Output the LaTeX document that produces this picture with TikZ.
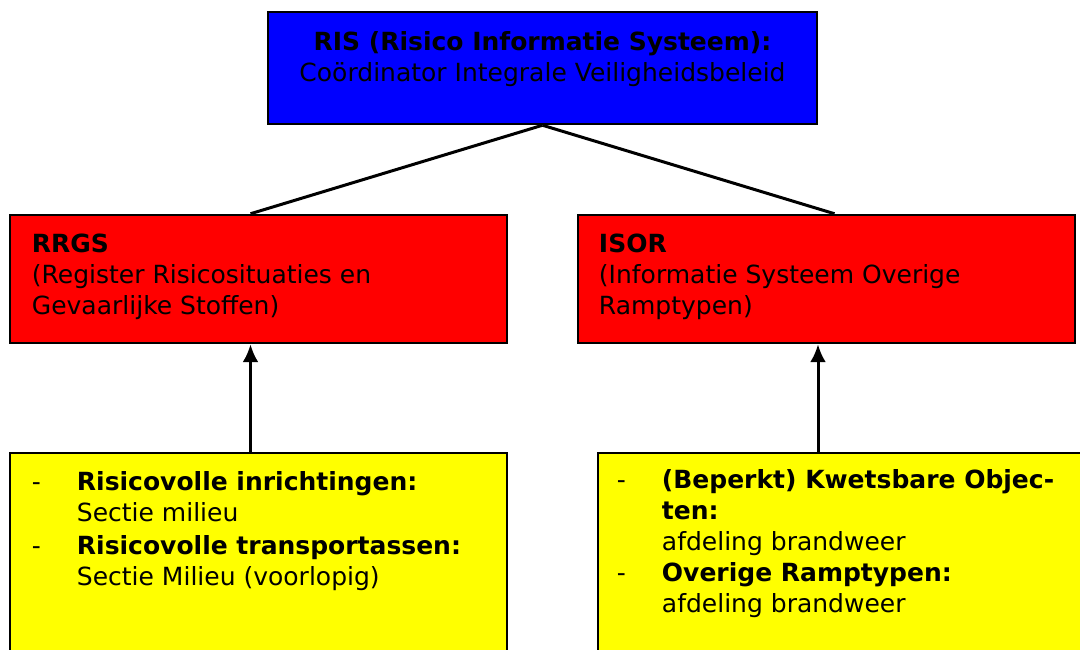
\documentclass[tikz,border=0pt]{standalone}
\usepackage{fontspec}
\setmainfont{DejaVu Sans}
\usetikzlibrary{arrows.meta, positioning}
\definecolor{RISBlue}{RGB}{0,0,255}
\definecolor{RISRed}{RGB}{255,0,0}
\definecolor{RISYellow}{RGB}{255,255,0}

\begin{document}
\begin{tikzpicture}[x = 1pt, y = 1pt]%
    %
    \def\boxwidth{497pt}%
    \def\boxheight{128pt}%
    \def\dashcol{45pt}%
    %
    \tikzstyle{box} = [rectangle, draw = black, line width = 2.5pt, minimum width = \boxwidth, minimum height = \boxheight, inner sep = 0pt]%
    \tikzstyle{txt} = [align = left, inner sep = 0pt, font = \fontsize{25}{31}\selectfont]%
    \tikzstyle{link} = [draw = black, line width = 3pt]%
    \tikzstyle{arrow} = [-{Latex[length = 18pt, width = 16pt]}, line width = 3pt, draw = black]%
    %
    \useasboundingbox (0, 0) rectangle (1080, 650);%
    \clip (0, 0) rectangle (1080, 650);%
    %
    % boxes
    \node [box, fill = RISBlue, minimum width = 549pt, minimum height = 112pt] (ris) at (542.5, 582) {};%
    \node [box, fill = RISRed] (rrgs) at (258.5, 371) {};%
    \node [box, fill = RISRed] (isor) at (826.5, 371) {};%
    \node [box, fill = RISYellow, minimum height = 247pt] (risks) at (258.5, 73.5) {};%
    \node [box, fill = RISYellow, minimum width = 502pt, minimum height = 247pt] (objects) at (849, 73.5) {};%
    %
    % texts
    \node [txt, align = center, below = 21pt of ris.north] (ristxt) {\textbf{RIS (Risico Informatie Systeem):}\\Coördinator Integrale Veiligheidsbeleid};%
    \node [txt, below right = 20pt and 23pt of rrgs.north west] (rrgstxt) {\textbf{RRGS}\\(Register Risicosituaties en\\Gevaarlijke Stoffen)};%
    \node [txt, below right = 20pt and 22pt of isor.north west] (isortxt) {\textbf{ISOR}\\(Informatie Systeem Overige\\Ramptypen)};%
    \node [txt, below right = 17pt and 23pt of risks.north west] (riskstxt) {%
        \begin{tabular}{@{}p{\dashcol}@{}l@{}}%
            - & \textbf{Risicovolle inrichtingen:}\\
              & Sectie milieu\\[2pt]
            - & \textbf{Risicovolle transportassen:}\\
              & Sectie Milieu (voorlopig)
        \end{tabular}};%
    \node [txt, below right = 15pt and 20pt of objects.north west] (objectstxt) {%
        \begin{tabular}{@{}p{\dashcol}@{}l@{}}%
            - & \textbf{(Beperkt) Kwetsbare Objec-}\\
              & \textbf{ten:}\\
              & afdeling brandweer\\
            - & \textbf{Overige Ramptypen:}\\
              & afdeling brandweer
        \end{tabular}};%
    %
    % connectors
    \draw [link] (ris.south) -- ([xshift = -8pt]rrgs.north);%
    \draw [link] (ris.south) -- ([xshift = 8pt]isor.north);%
    \draw [arrow] ([xshift = -8pt]rrgs.south |- risks.north) -- ([xshift = -8pt]rrgs.south);%
    \draw [arrow] ([xshift = -8.5pt]isor.south |- objects.north) -- ([xshift = -8.5pt]isor.south);%
\end{tikzpicture}
\end{document}
